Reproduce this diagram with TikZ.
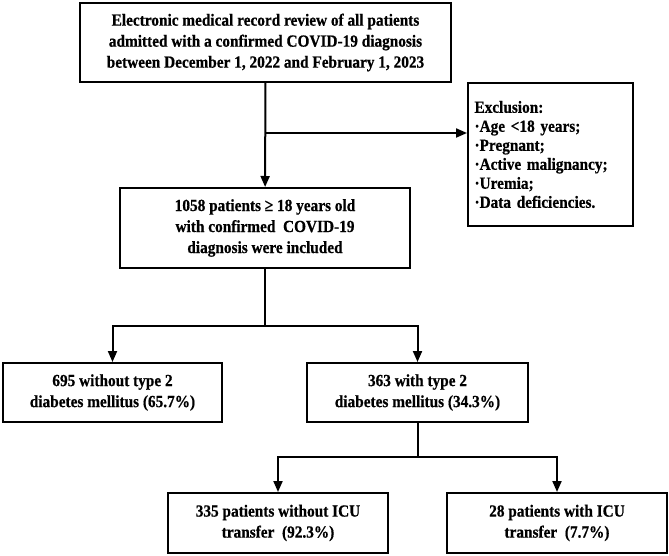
\documentclass[tikz,border=0pt]{standalone}
\usepackage{fontspec}
\setmainfont{Liberation Serif}[FakeStretch=0.9, BoldFeatures={FakeBold=0.6}]
\usetikzlibrary{arrows.meta}
\begin{document}
\begin{tikzpicture}[x=1pt,y=1pt,
  box/.style={draw=black, line width=2pt, align=center, font=\fontsize{17}{21}\selectfont\bfseries, inner sep=2pt},
  conn/.style={line width=2pt, draw=black},
  arr/.style={conn, -{Triangle[length=11pt,width=9pt]}}]
\useasboundingbox (0,0) rectangle (669,-556);
\node[box, minimum width=371, minimum height=79] (top) at (265.5,-42.5)
  {Electronic medical record review of all patients\\admitted with a confirmed COVID-19 diagnosis\\between December 1, 2022 and February 1, 2023};
\node[box, minimum width=165, minimum height=143, text width=152, align=left,
  font=\fontsize{17}{19}\selectfont\bfseries] (excl) at (550.5,-154.5)
  {Exclusion:\\·Age <18 years;\\·Pregnant;\\·Active malignancy;\\·Uremia;\\·Data deficiencies.};
\node[box, minimum width=290, minimum height=80] (inc) at (265,-228)
  {1058 patients ≥ 18 years old\\with confirmed\ \ COVID-19\\diagnosis were included};
\node[box, minimum width=219, minimum height=59] (no) at (112.5,-392.5)
  {695 without type 2\\diabetes mellitus (65.7\%)};
\node[box, minimum width=221, minimum height=59] (yes) at (417.5,-392.5)
  {363 with type 2\\diabetes mellitus (34.3\%)};
\node[box, minimum width=220, minimum height=60] (noicu) at (278,-523)
  {335 patients without ICU\\transfer\ \ (92.3\%)};
\node[box, minimum width=220, minimum height=60] (icu) at (557,-523)
  {28 patients with ICU\\transfer\ \ (7.7\%)};
\draw[arr] (top) -- (inc);
\coordinate (j1) at (265,-133);
\draw[arr] (j1) -- (j1 -| excl.west);
\coordinate (b1) at (265,-326);
\draw[conn] (inc.south) -- (b1);
\draw[arr] (b1) -| (no.north);
\draw[arr] (b1) -| (yes.north);
\coordinate (b2) at (417.5,-457);
\draw[conn] (yes.south) -- (b2);
\draw[arr] (b2) -| (noicu.north);
\draw[arr] (b2) -| (icu.north);
\end{tikzpicture}
\end{document}
